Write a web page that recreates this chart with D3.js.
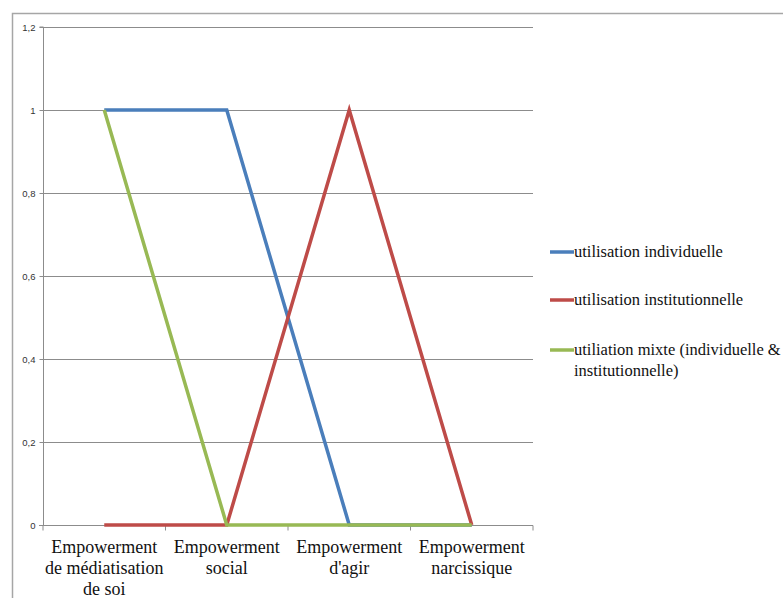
<!DOCTYPE html>
<html><head><meta charset="utf-8">
<script src="https://cdn.jsdelivr.net/npm/d3@7"></script>
<style>
html,body{margin:0;padding:0;background:#fff;}
svg{display:block;}
svg text.srf, svg text.srf tspan{font-family:"Liberation Serif" !important;}
svg text.sns{font-family:"Liberation Sans" !important;}
</style>
</head><body>
<svg id="c" width="783" height="598"></svg>
<script>
const categories = [
  ["Empowerment", "de médiatisation", "de soi"],
  ["Empowerment", "social"],
  ["Empowerment", "d'agir"],
  ["Empowerment", "narcissique"]
];
const seriesNames = ["utilisation individuelle", "utilisation institutionnelle", "utiliation mixte (individuelle & institutionnelle)"];
const individuelle = [1, 1, 0, 0];
const institutionnelle = [0, 0, 1, 0];
const mixte = [1, 0, 0, 0];
const yTicks = [0, 0.2, 0.4, 0.6, 0.8, 1, 1.2];
const yTickLabels = ["0", "0,2", "0,4", "0,6", "0,8", "1", "1,2"];
const colors = ["#4a7ebb", "#be4b48", "#98b954"];

const svg = d3.select("#c");
// outer chart border (cropped at right/bottom)
svg.append("path").attr("d", "M12.5,598 L12.5,13.5 L783,13.5")
  .attr("fill", "none").attr("stroke", "#a6a6a6").attr("stroke-width", 1.5);

const pLeft = 43, pRight = 533, pTop = 27, pBottom = 525;
const x = d3.scaleBand().domain(d3.range(categories.length)).range([pLeft, pRight]);
const y = d3.scaleLinear().domain([0, 1.2]).range([pBottom, pTop]);

// gridlines
svg.append("g").selectAll("line").data(yTicks.filter(t => t > 0)).join("line")
  .attr("x1", pLeft).attr("x2", pRight)
  .attr("y1", d => Math.round(y(d)) + 0.5).attr("y2", d => Math.round(y(d)) + 0.5)
  .attr("stroke", "#8c8c8c").attr("stroke-width", 1);

// y axis
const yAxis = d3.axisLeft(y).tickValues(yTicks).tickSize(4).tickFormat((d, i) => yTickLabels[i]);
const gy = svg.append("g").attr("transform", `translate(${pLeft + 0.5},0)`).call(yAxis);
gy.attr("font-family", "Liberation Sans");
gy.select(".domain").attr("stroke", "#8c8c8c").attr("d", `M-4,${pTop}H0V${pBottom}`);
gy.selectAll(".tick line").attr("stroke", "#8c8c8c");
gy.selectAll(".tick text").attr("class", "sns")
  .attr("font-size", 9.5).attr("fill", "#333").attr("x", -8);

// x axis
const gx = svg.append("g").attr("transform", `translate(0,${pBottom + 0.5})`)
  .attr("font-family", "Liberation Serif");
gx.append("line").attr("x1", pLeft - 4).attr("x2", pRight).attr("stroke", "#8c8c8c");
const bounds = d3.range(categories.length + 1).map(i => i < categories.length ? x(i) : x(i - 1) + x.bandwidth());
gx.selectAll("line.tk").data(bounds).join("line").attr("class", "tk")
  .attr("x1", d => d).attr("x2", d => d).attr("y1", 0).attr("y2", 5).attr("stroke", "#8c8c8c");
categories.forEach((lines, i) => {
  lines.forEach((l, j) => {
    gx.append("text").attr("class", "srf").attr("font-family", "Liberation Serif")
      .attr("x", x(i) + x.bandwidth() / 2).attr("y", 27 + j * 21)
      .attr("font-size", 18).attr("fill", "#111").attr("text-anchor", "middle").text(l);
  });
});

// lines
const line = d3.line().x((d, i) => x(i) + x.bandwidth() / 2).y(d => y(d));
[individuelle, institutionnelle, mixte].forEach((s, k) => {
  svg.append("path").datum(s).attr("d", line).attr("fill", "none")
    .attr("stroke", colors[k]).attr("stroke-width", 3.5).attr("stroke-linejoin", "miter");
});

// legend
const legendRows = [
  {lines: ["utilisation individuelle"], y: 252},
  {lines: ["utilisation institutionnelle"], y: 300},
  {lines: ["utiliation mixte (individuelle &", "institutionnelle)"], y: 350}
];
const gl = svg.append("g").attr("font-family", "Liberation Serif");
legendRows.forEach((r, k) => {
  gl.append("line").attr("x1", 550).attr("x2", 574).attr("y1", r.y).attr("y2", r.y)
    .attr("stroke", colors[k]).attr("stroke-width", 3.5);
  r.lines.forEach((l, j) => gl.append("text").attr("class", "srf").attr("font-family", "Liberation Serif")
    .attr("font-size", 16.5).attr("fill", "#111")
    .attr("x", 574).attr("y", r.y + 5 + j * 21).text(l));
});
</script>
</body></html>
